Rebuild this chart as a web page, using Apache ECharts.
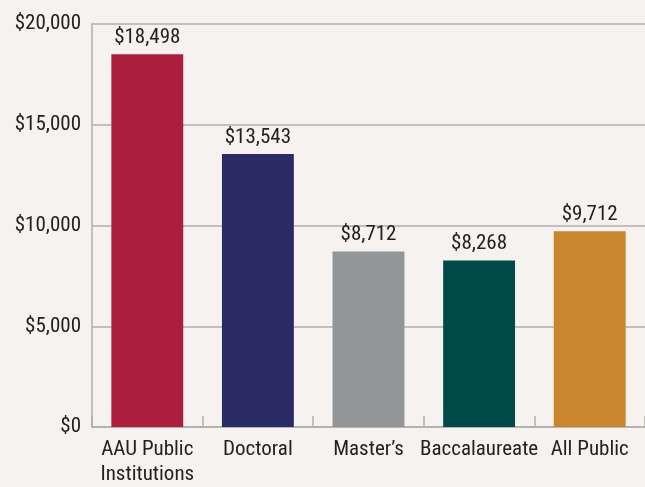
<!DOCTYPE html>
<html>
<head>
<meta charset="utf-8">
<script src="https://cdn.jsdelivr.net/npm/echarts@6/dist/echarts.min.js"></script>
<style>
  html, body { margin: 0; padding: 0; background: #f5f2ef; }
  #main { width: 645px; height: 487px; }
</style>
</head>
<body>
<div id="main"></div>
<script>
// categories along the x axis
var categories = ["AAU Public\nInstitutions", "Doctoral", "Master\u2019s", "Baccalaureate", "All Public"];
// dollar values per category
var values = [18498, 13543, 8712, 8268, 9712];
// bar colours, one per category
var barColors = ["#ad1e3e", "#2a2a66", "#939598", "#004b49", "#c9862c"];

var fontFam = "'Liberation Sans Narrow', 'Roboto Condensed', 'Liberation Sans', sans-serif";
var money = function (v) {
  return "$" + v.toLocaleString("en-US");
};

var myChart = echarts.init(document.getElementById("main"));
var option = {
  backgroundColor: "#f5f2ef",
  animation: false,
  grid: {
    left: 92,
    top: 24,
    width: 556,
    bottom: 59,
    containLabel: false
  },
  xAxis: {
    type: "category",
    data: categories,
    axisLine: { lineStyle: { color: "#b3aeab", width: 1.5 } },
    axisTick: {
      show: true,
      inside: true,
      length: 11,
      lineStyle: { color: "#b3aeab", width: 1.5 }
    },
    axisLabel: {
      color: "#222",
      fontFamily: fontFam,
      fontSize: 21,
      lineHeight: 25,
      margin: 10,
      interval: 0
    }
  },
  yAxis: {
    type: "value",
    min: 0,
    max: 20000,
    interval: 5000,
    axisLine: { show: true, lineStyle: { color: "#b3aeab", width: 1.5 } },
    axisTick: { show: false },
    splitLine: { lineStyle: { color: "#b3aeab", width: 1.5 } },
    axisLabel: {
      color: "#222",
      fontFamily: fontFam,
      fontSize: 21,
      margin: 11,
      formatter: money
    }
  },
  series: [
    {
      type: "bar",
      barWidth: "65%",
      data: values.map(function (v, i) {
        return { value: v, itemStyle: { color: barColors[i] } };
      }),
      label: {
        show: true,
        position: "top",
        distance: 6,
        color: "#222",
        fontFamily: fontFam,
        fontSize: 21,
        formatter: function (p) {
          return money(p.value);
        }
      }
    }
  ]
};
myChart.setOption(option);
</script>
</body>
</html>
